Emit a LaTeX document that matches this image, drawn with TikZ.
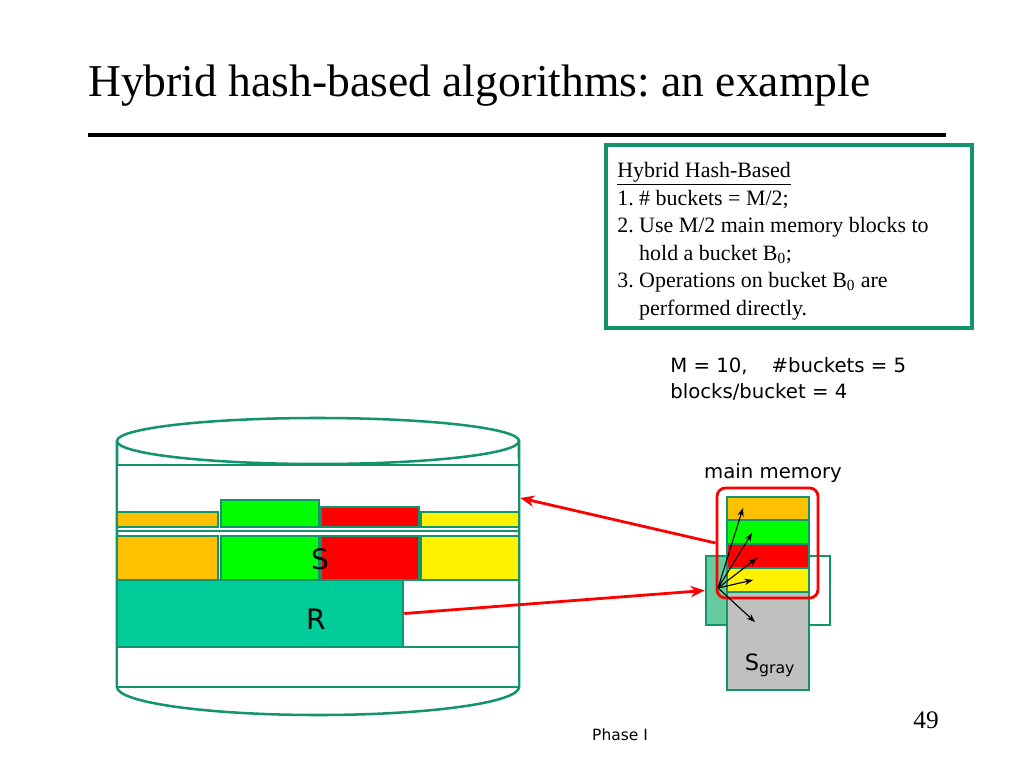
\documentclass[tikz,border=0pt]{standalone}
\usepackage{fontspec}
\setmainfont{Liberation Serif}
\setsansfont{DejaVu Sans}
\usetikzlibrary{arrows.meta,positioning,fit}
\definecolor{diskgreen}{RGB}{20,148,108}
\definecolor{rteal}{RGB}{0,204,153}
\definecolor{lteal}{RGB}{102,204,160}
\definecolor{bktorange}{RGB}{255,192,0}
\definecolor{memgray}{RGB}{192,192,192}

\begin{document}
\frenchspacing
\begin{tikzpicture}[
		x=0.025cm, y=-0.025cm,
		cell/.style={draw=diskgreen, line width=1.8pt, inner sep=0pt},
		lbl/.style={font=\sffamily\fontsize{20}{22}\selectfont},
		note/.style={font=\sffamily\fontsize{14}{18.4}\selectfont, align=left, inner sep=0pt},
		line/.style={draw, red, line width=2pt, ->, >={Stealth[length=10pt,width=8pt]}},
		ptr/.style={draw, black, line width=0.8pt, ->, >={Stealth[length=6pt,width=4.5pt]}}
	]
	\useasboundingbox (0,0) rectangle (1024,768);

	% Title and rule
	\node[anchor=base west, inner sep=0pt, font=\fontsize{32.4}{36}\selectfont] (title) at (88,97) {Hybrid hash-based algorithms: an example};
	\draw[line width=3pt] (88,135) -- (946,135);

	% Algorithm box
	\node[draw=diskgreen, line width=2.2pt, inner sep=0pt, fit={(606,145) (972,328)}] (rules) {};
	\node[anchor=base west, inner sep=0pt, align=left, font=\fontsize{15.6}{19.5}\selectfont] (rulestext) at (617,315) {\underline{Hybrid Hash-Based}\\
		1. \# buckets = M/2;\\
		2. Use M/2 main memory blocks to\\
		\phantom{2. }hold a bucket B\textsubscript{0};\\
		3. Operations on bucket B\textsubscript{0} are\\
		\phantom{3. }performed directly.};

	\node[note, anchor=base west] (params) at (670,398) {M = 10,\hspace{0.9em} \#buckets = 5\\blocks/bucket = 4};

	% Disk
	\draw[diskgreen, line width=1.8pt] (117,441) -- (117,687) arc[start angle=180, end angle=360, x radius=5.025cm, y radius=0.7cm] -- (519,441);
	\draw[diskgreen, line width=1.8pt, fill=white] (318,441) ellipse [x radius=5.025cm, y radius=0.575cm];

	\node[cell, fill=white, fit={(117,465) (519,531)}] (upper) {};
	\node[cell, fill=bktorange, fit={(117,512) (218,527)}] (o1) {};
	\node[cell, fill=green, fit={(221,500) (319,527)}] (g1) {};
	\node[cell, fill=red, fit={(321,507) (419,527)}] (r1) {};
	\node[cell, fill=yellow, fit={(421,512) (519,527)}] (y1) {};

	\node[cell, fill=bktorange, fit={(117,536) (218,580)}] (o2) {};
	\node[cell, fill=green, fit={(221,536) (319,580)}] (g2) {};
	\node[cell, fill=red, fit={(321,536) (419,580)}] (r2) {};
	\node[cell, fill=yellow, fit={(421,536) (519,580)}] (y2) {};

	\node[cell, fill=rteal, fit={(117,580) (403,647)}] (R) {};
	\node[cell, fill=white, fit={(403,580) (519,647)}] (free) {};
	\node[cell, fill=white, fit={(117,647) (519,687)}] (lower) {};

	\node[lbl] (slbl) at (320,559) {S};
	\node[lbl] (rlbl) at (316,619) {R};

	% Main memory
	\node[note, anchor=base] (mmlbl) at (773,478) {main memory};
	\node[cell, fill=lteal, fit={(706,556) (727,625)}] (inbuf) {};
	\node[cell, fill=white, fit={(809,556) (830,625)}] (outbuf) {};
	\node[cell, fill=memgray, fit={(727,497) (809,690)}] (mem) {};
	\node[cell, line width=1pt, fill=bktorange, fit={(727,497) (809,520)}] (m1) {};
	\node[cell, line width=1pt, fill=green, fit={(727,520) (809,544)}] (m2) {};
	\node[cell, line width=1pt, fill=red, fit={(727,544) (809,568)}] (m3) {};
	\node[cell, line width=1pt, fill=yellow, fit={(727,568) (809,592)}] (m4) {};
	\node[draw=red, line width=2pt, rounded corners=6pt, inner sep=0pt, fit={(717,488) (818,598)}] (buf) {};
	\node[anchor=base, inner sep=0pt, font=\sffamily\fontsize{16}{20}\selectfont] (sgray) at (770,670) {S\textsubscript{gray}};

	% Hashing pointers
	\coordinate (hub) at (718,588);
	\foreach \x/\y [count=\i] in {743/508, 752/533, 757/558, 753/580, 755/622}
		\coordinate (tip\i) at (\x,\y);
	\foreach \i in {1,...,5}
		\draw[ptr] (hub) -- (tip\i);

	% Lines
	\draw[line] (buf.west) -- (upper.east);
	\draw[line] (R.east) -- (inbuf.west);

	% Footer
	\node[anchor=base, inner sep=0pt, font=\fontsize{18}{20}\selectfont] (page) at (926,728) {49};
	\node[anchor=base, inner sep=0pt, font=\sffamily\fontsize{11}{14}\selectfont] (phase) at (620,740) {Phase I};
\end{tikzpicture}
\end{document}
